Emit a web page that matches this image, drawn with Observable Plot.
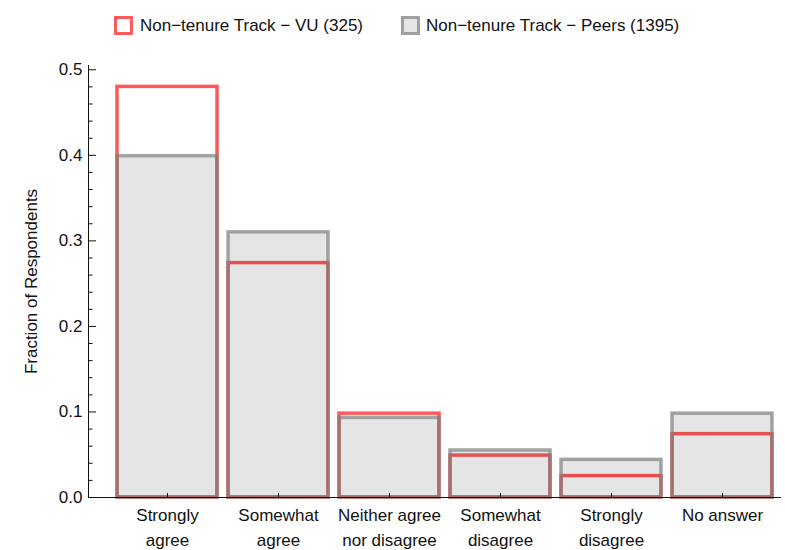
<!DOCTYPE html>
<html>
<head>
<meta charset="utf-8">
<script src="https://cdn.jsdelivr.net/npm/d3@7"></script>
<script src="https://cdn.jsdelivr.net/npm/@observablehq/plot@0.6"></script>
<style>
  body { margin: 0; background: white; font-family: "Liberation Sans", Arial, sans-serif; }
  #legend { position: relative; height: 45px; width: 785px; font-size: 17px; color: #111; }
  .sw { position: absolute; top: 16px; width: 19px; height: 19px; box-sizing: border-box; border: 3.5px solid; }
  .lt { position: absolute; top: 16px; line-height: 20px; white-space: nowrap; }
  #chart svg { display: block; }
</style>
</head>
<body>
<div id="legend"></div>
<div id="chart"></div>
<script>
const categories = ["Strongly agree", "Somewhat agree", "Neither agree nor disagree", "Somewhat disagree", "Strongly disagree", "No answer"];
const tickLabels = ["Strongly\nagree", "Somewhat\nagree", "Neither agree\nnor disagree", "Somewhat\ndisagree", "Strongly\ndisagree", "No answer"];
const vuValues = [0.48, 0.274, 0.098, 0.049, 0.025, 0.074];
const peerValues = [0.399, 0.31, 0.093, 0.055, 0.044, 0.098];
const seriesNames = ["Non\u2212tenure Track \u2212 VU (325)", "Non\u2212tenure Track \u2212 Peers (1395)"];
const yMajorTicks = [0, 0.1, 0.2, 0.3, 0.4, 0.5];
const yMinorTicks = [0.02, 0.04, 0.06, 0.08, 0.12, 0.14, 0.16, 0.18, 0.22, 0.24, 0.26, 0.28, 0.32, 0.34, 0.36, 0.38, 0.42, 0.44, 0.46, 0.48];
const yLabel = "Fraction of Respondents";

const vuData = categories.map((c, i) => ({category: c, value: vuValues[i]}));
const peerData = categories.map((c, i) => ({category: c, value: peerValues[i]}));
const labelMap = new Map(categories.map((c, i) => [c, tickLabels[i]]));

// Legend
const legend = document.getElementById("legend");
legend.innerHTML = `
  <div class="sw" style="left:114px;border-color:#ff5a5a;background:#fff"></div>
  <div class="lt" style="left:140px">${seriesNames[0]}</div>
  <div class="sw" style="left:401px;border-color:#a0a0a0;background:#e5e5e5"></div>
  <div class="lt" style="left:426px">${seriesNames[1]}</div>`;

const chart = Plot.plot({
  width: 785,
  height: 505,
  marginLeft: 88,
  marginRight: 5,
  marginTop: 20,
  marginBottom: 53,
  style: {fontFamily: "Liberation Sans, Arial, sans-serif", fontSize: "17px", background: "white", color: "#111"},
  x: {domain: categories, range: [109, 779], paddingInner: 0.1, paddingOuter: 0.05, label: null},
  y: {domain: [0, 0.505], label: null},
  marks: [
    Plot.barY(vuData, {x: "category", y: "value", fill: "none", stroke: "#ff5a5a", strokeWidth: 3.5}),
    Plot.barY(peerData, {x: "category", y: "value", fill: "black", fillOpacity: 0.1, stroke: "#7f7f7f", strokeOpacity: 0.7, strokeWidth: 3.5}),
    Plot.frame({anchor: "left", stroke: "#111"}),
    Plot.frame({anchor: "bottom", stroke: "#111"}),
    Plot.axisY(yMajorTicks, {tickSize: 8, dx: 8, tickFormat: () => "", label: null, stroke: "#111"}),
    Plot.axisY(yMinorTicks, {tickSize: 4.5, dx: 4.5, tickFormat: () => "", label: null, stroke: "#111"}),
    Plot.axisY(yMajorTicks, {tickSize: 0, tickPadding: 6, tickFormat: d3.format(".1f"), label: null, fontSize: 17, fill: "#111"}),
    Plot.axisX({tickSize: 4, dy: -4, tickFormat: () => "", label: null, stroke: "#111"}),
    Plot.axisX({tickSize: 0, tickPadding: 5, tickFormat: (d) => labelMap.get(d), lineHeight: 1.5, label: null, fontSize: 17, fill: "#111"}),
    Plot.text([yLabel], {frameAnchor: "left", textAnchor: "middle", dx: -57, rotate: -90, fontSize: 17, fill: "#111"})
  ]
});
document.getElementById("chart").appendChild(chart);
</script>
</body>
</html>
